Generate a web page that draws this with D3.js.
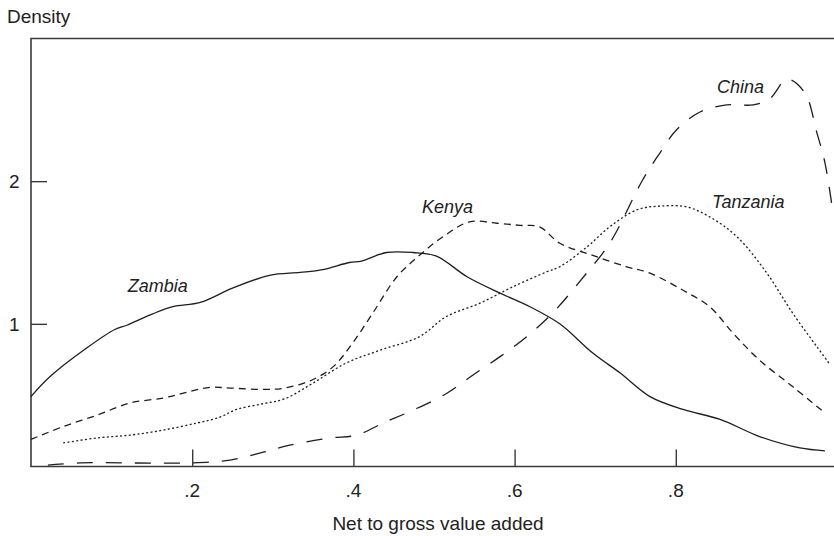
<!DOCTYPE html>
<html>
<head>
<meta charset="utf-8">
<script src="https://cdn.jsdelivr.net/npm/d3@7"></script>
<style>
  html, body { margin: 0; padding: 0; background: #fff; }
  svg { display: block; }
  text { font-family: "Liberation Sans", Arial, sans-serif; fill: #222; }
</style>
</head>
<body>
<svg id="chart" width="834" height="536"></svg>
<script>
// Kernel density of the net-to-gross value added ratio, by country
const xTicks = [0.2, 0.4, 0.6, 0.8];
const xTickLabels = [".2", ".4", ".6", ".8"];
const yTicks = [1, 2];
const yTickLabels = ["1", "2"];

const zambiaX = [0, 0.023, 0.069, 0.104, 0.119, 0.151, 0.176, 0.21, 0.25, 0.296, 0.334, 0.362, 0.395, 0.41, 0.441, 0.474, 0.503, 0.541, 0.582, 0.619, 0.656, 0.697, 0.731, 0.768, 0.809, 0.855, 0.904, 0.954, 0.985];
const zambiaY = [0.49, 0.627, 0.83, 0.96, 0.99, 1.07, 1.12, 1.15, 1.25, 1.34, 1.36, 1.38, 1.43, 1.44, 1.50, 1.50, 1.475, 1.33, 1.215, 1.12, 1.0, 0.795, 0.655, 0.49, 0.40, 0.33, 0.21, 0.13, 0.11];

const kenyaX = [0, 0.04, 0.082, 0.123, 0.164, 0.193, 0.222, 0.247, 0.288, 0.315, 0.35, 0.375, 0.399, 0.424, 0.454, 0.482, 0.511, 0.544, 0.578, 0.607, 0.631, 0.656, 0.697, 0.739, 0.768, 0.809, 0.842, 0.871, 0.904, 0.945, 0.985];
const kenyaY = [0.19, 0.28, 0.36, 0.445, 0.48, 0.52, 0.555, 0.55, 0.54, 0.55, 0.61, 0.70, 0.865, 1.075, 1.33, 1.48, 1.61, 1.715, 1.705, 1.69, 1.68, 1.565, 1.48, 1.40, 1.355, 1.235, 1.12, 0.935, 0.745, 0.56, 0.375];

const tanzaniaX = [0.04, 0.082, 0.123, 0.164, 0.206, 0.234, 0.255, 0.288, 0.315, 0.35, 0.391, 0.433, 0.482, 0.515, 0.557, 0.598, 0.64, 0.656, 0.69, 0.718, 0.752, 0.78, 0.813, 0.842, 0.876, 0.913, 0.945, 0.975, 0.99];
const tanzaniaY = [0.165, 0.20, 0.22, 0.255, 0.305, 0.345, 0.40, 0.44, 0.475, 0.585, 0.725, 0.815, 0.91, 1.05, 1.145, 1.26, 1.365, 1.40, 1.54, 1.68, 1.80, 1.825, 1.82, 1.75, 1.61, 1.355, 1.075, 0.84, 0.725];

const chinaX = [0.021, 0.061, 0.197, 0.247, 0.288, 0.321, 0.371, 0.404, 0.437, 0.474, 0.515, 0.548, 0.582, 0.615, 0.647, 0.69, 0.718, 0.759, 0.78, 0.801, 0.83, 0.863, 0.896, 0.917, 0.938, 0.96, 0.975, 0.985, 0.995];
const chinaY = [0.01, 0.025, 0.025, 0.045, 0.10, 0.15, 0.20, 0.22, 0.305, 0.395, 0.51, 0.64, 0.77, 0.91, 1.075, 1.36, 1.565, 2.01, 2.195, 2.36, 2.485, 2.535, 2.535, 2.58, 2.715, 2.62, 2.34, 2.13, 1.78];

const series = [
  { name: "Zambia",   xs: zambiaX,   ys: zambiaY,   dash: null,    label: [0.12, 1.22] },
  { name: "Kenya",    xs: kenyaX,    ys: kenyaY,    dash: "7,5",   label: [0.485, 1.78] },
  { name: "Tanzania", xs: tanzaniaX, ys: tanzaniaY, dash: "2,2.4", label: [0.845, 1.81] },
  { name: "China",    xs: chinaX,    ys: chinaY,    dash: "16,13", label: [0.851, 2.62] }
];

const svg = d3.select("#chart");
const x = d3.scaleLinear().domain([0, 1]).range([31, 837]);
const y = d3.scaleLinear().domain([0, 3]).range([466.5, 38.5]);

const frame = svg.append("g").attr("stroke", "#3a3a3a").attr("stroke-width", 1.6).attr("fill", "none");
// top and left edges of the plot box
frame.append("path").attr("d", `M${x(0)},${y(0)}V${y(3)}H834`);

// x axis with inward ticks
const xAxis = d3.axisTop(x).tickValues(xTicks).tickSize(17).tickFormat("");
const gx = svg.append("g").attr("transform", `translate(0,${y(0)})`).call(xAxis);
gx.select(".domain").remove();
gx.selectAll(".tick line").attr("stroke", "#3a3a3a").attr("stroke-width", 1.4);
svg.append("line").attr("x1", x(0) - 0.8).attr("x2", 834).attr("y1", y(0)).attr("y2", y(0))
  .attr("stroke", "#3a3a3a").attr("stroke-width", 1.6);
svg.append("g").selectAll("text").data(xTicks).join("text")
  .attr("x", d => x(d)).attr("y", 497)
  .attr("text-anchor", "middle").attr("font-size", 19)
  .text((d, i) => xTickLabels[i]);

// y axis with inward ticks
const yAxis = d3.axisRight(y).tickValues(yTicks).tickSize(16).tickFormat("");
const gy = svg.append("g").attr("transform", `translate(${x(0)},0)`).call(yAxis);
gy.select(".domain").remove();
gy.selectAll(".tick line").attr("stroke", "#3a3a3a").attr("stroke-width", 1.4);
svg.append("g").selectAll("text").data(yTicks).join("text")
  .attr("x", 19.5).attr("y", d => y(d) + 7)
  .attr("text-anchor", "end").attr("font-size", 19)
  .text((d, i) => yTickLabels[i]);

// axis titles
svg.append("text").attr("x", 7).attr("y", 23).attr("font-size", 19).text("Density");
svg.append("text").attr("x", 438).attr("y", 530).attr("text-anchor", "middle").attr("font-size", 19)
  .text("Net to gross value added");

// density curves
const line = d3.line().x(d => x(d[0])).y(d => y(d[1])).curve(d3.curveCatmullRom.alpha(0.5));
svg.append("g").selectAll("path").data(series).join("path")
  .attr("d", s => line(s.xs.map((v, i) => [v, s.ys[i]])))
  .attr("fill", "none").attr("stroke", "#1e1e1e").attr("stroke-width", 1.3)
  .attr("stroke-dasharray", s => s.dash);

// country labels
svg.append("g").selectAll("text").data(series).join("text")
  .attr("x", s => x(s.label[0])).attr("y", s => y(s.label[1]))
  .attr("font-style", "italic").attr("font-size", 18).attr("text-anchor", "start")
  .text(s => s.name);
</script>
</body>
</html>
